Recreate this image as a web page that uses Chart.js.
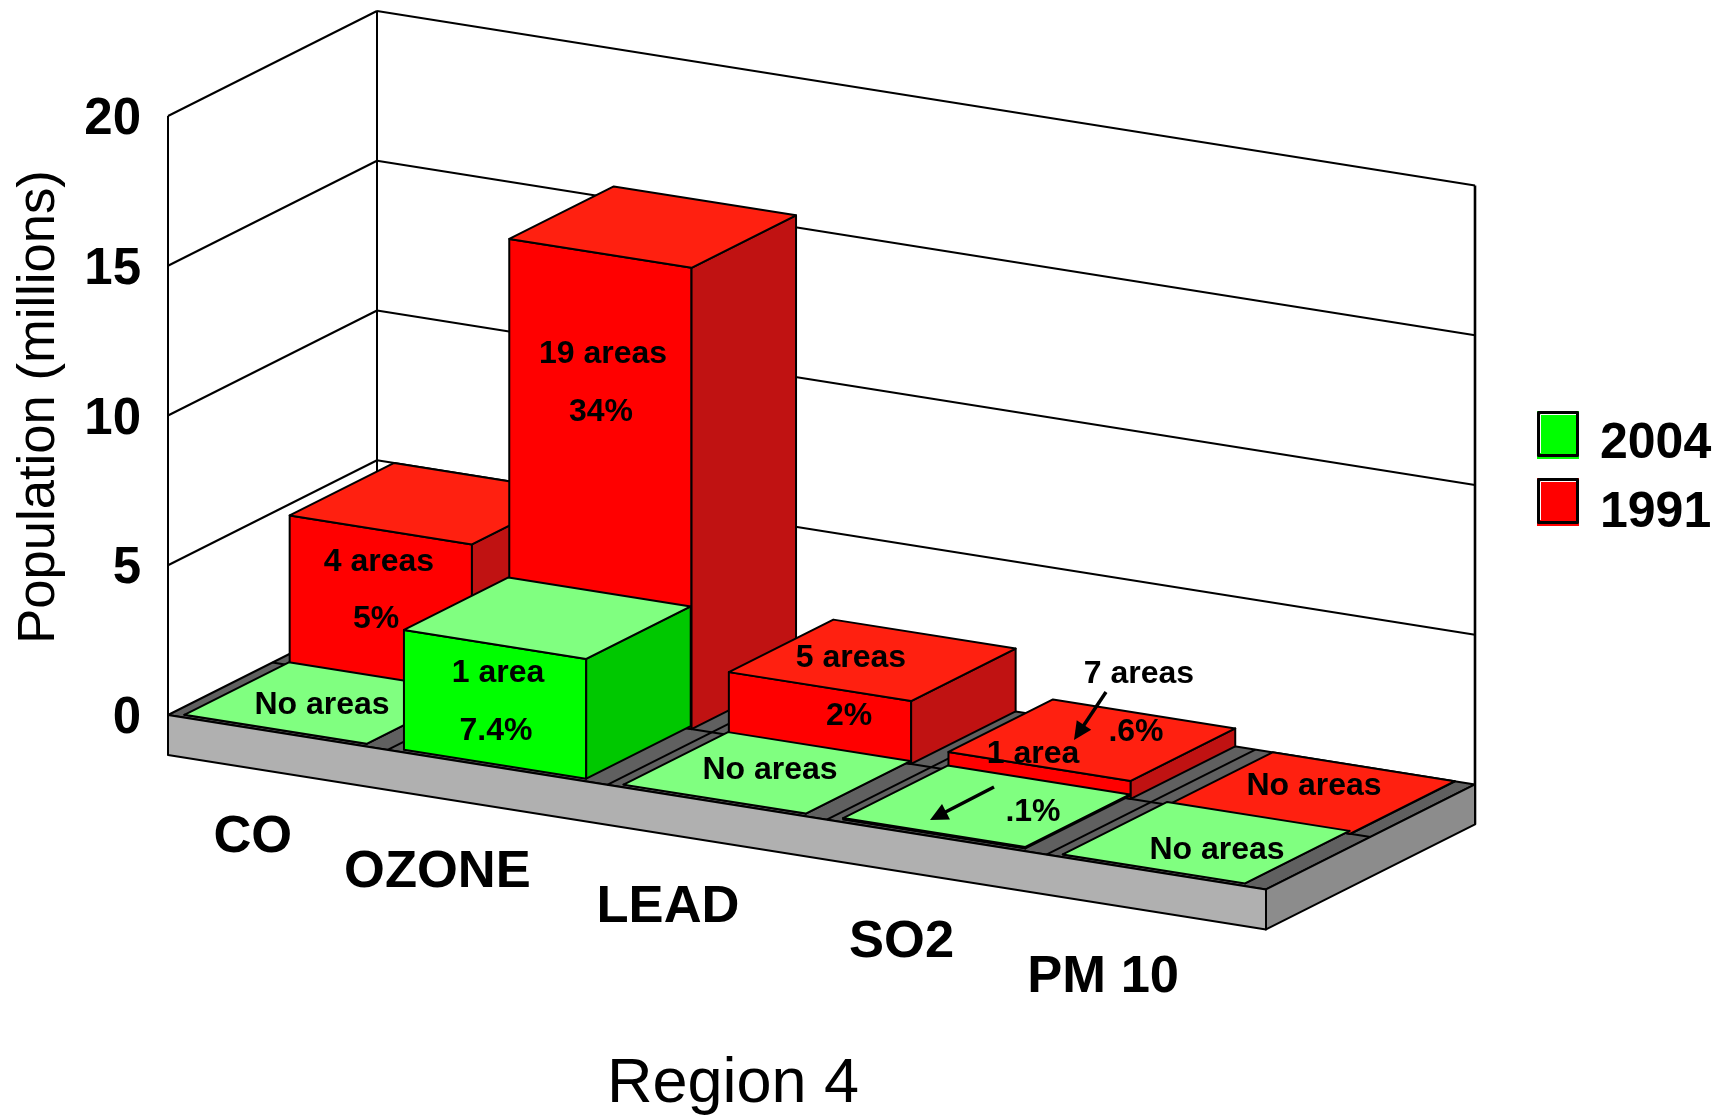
<!DOCTYPE html>
<html>
<head>
<meta charset="utf-8">
<title>Region 4</title>
<script src="https://cdn.jsdelivr.net/npm/chart.js@4/dist/chart.umd.min.js"></script>
<style>
    html, body { margin: 0; padding: 0; background: #fff; }
    canvas { display: block; }
</style>
</head>
<body>
<canvas id="regionChart" width="1725" height="1117"></canvas>
<script>
//chart data
const categories = ['CO', 'OZONE', 'LEAD', 'SO2', 'PM 10'];
const years = ['2004', '1991'];
const values2004 = [0, 4.0, 0, 0.05, 0];
const values1991 = [5.0, 15.4, 2.1, 0.6, 0];
const yTicks = [0, 5, 10, 15, 20];
const areas2004 = ['No areas', '1 area', 'No areas', '1 area', 'No areas'];
const percent2004 = ['', '7.4%', '', '.1%', ''];
const areas1991 = ['4 areas', '19 areas', '5 areas', '7 areas', 'No areas'];
const percent1991 = ['5%', '34%', '2%', '.6%', ''];

//3d look
const slope = 0.1589;
const depthX = 209;
const depthY = 105;
const plinth = 40;
const green = {front: '#00ff00', top: '#80ff80', side: '#00c800'};
const red = {front: '#ff0000', top: '#ff2010', side: '#c01212'};
const font = 'Liberation Sans, Arial, sans-serif';

//where the texts sit on the canvas, same order as the arrays above
const areas2004Spots = [[322, 705], [498, 673], [770, 770], [1033, 754], [1217, 850]];
const percent2004Spots = [null, [496, 731], null, [1033, 812], null];
const areas1991Spots = [[379, 562], [603, 354], [851, 658], [1139, 674], [1314, 786]];
const percent1991Spots = [[376, 619], [601, 412], [849, 716], [1136, 732], null];
const categoryNudge = [-25, -60, -49, -35, -53];

function line(ctx, a, b, width) {
    ctx.lineWidth = width || 2;
    ctx.beginPath();
    ctx.moveTo(a.x, a.y);
    ctx.lineTo(b.x, b.y);
    ctx.stroke();
}

function face(ctx, points, color) {
    ctx.beginPath();
    points.forEach((p, i) => i ? ctx.lineTo(p.x, p.y) : ctx.moveTo(p.x, p.y));
    ctx.closePath();
    ctx.fillStyle = color;
    ctx.fill();
    ctx.lineWidth = 2;
    ctx.stroke();
}

function arrow(ctx, a, b) {
    const angle = Math.atan2(b.y - a.y, b.x - a.x);
    ctx.lineWidth = 3.5;
    ctx.beginPath();
    ctx.moveTo(a.x, a.y);
    ctx.lineTo(b.x - 12 * Math.cos(angle), b.y - 12 * Math.sin(angle));
    ctx.stroke();
    ctx.fillStyle = '#000';
    ctx.beginPath();
    ctx.moveTo(b.x, b.y);
    ctx.lineTo(b.x - 20 * Math.cos(angle - 0.45), b.y - 20 * Math.sin(angle - 0.45));
    ctx.lineTo(b.x - 20 * Math.cos(angle + 0.45), b.y - 20 * Math.sin(angle + 0.45));
    ctx.closePath();
    ctx.fill();
}

//box3d replaces the flat bars: every corner comes from the bar elements and the scales
const box3d = {
    id: 'box3d',
    beforeDatasetsDraw(chart) {
        const ctx = chart.ctx;
        const area = chart.chartArea;
        const xScale = chart.scales.x;
        const yScale = chart.scales.y;
        const project = (px, py, d) => ({
            x: px + d * depthX,
            y: py + (px - area.left) * slope - d * depthY
        });
        const down = (p) => ({x: p.x, y: p.y + plinth});

        ctx.save();
        ctx.strokeStyle = '#000';
        ctx.lineJoin = 'round';

        //walls and grid lines
        yScale.ticks.forEach(tick => {
            const py = yScale.getPixelForValue(tick.value);
            if (tick.value > 0) {
                line(ctx, project(area.left, py, 0), project(area.left, py, 1));
                line(ctx, project(area.left, py, 1), project(area.right, py, 1));
            }
        });
        const top = yScale.getPixelForValue(yTicks[yTicks.length - 1]);
        const zero = yScale.getPixelForValue(0);
        line(ctx, project(area.left, top, 0), down(project(area.left, zero, 0)));
        line(ctx, project(area.left, top, 1), project(area.left, zero, 1));
        line(ctx, project(area.right, top, 1), down(project(area.right, zero, 1)), 2.6);

        //floor and plinth
        const fl = project(area.left, zero, 0);
        const fr = project(area.right, zero, 0);
        const br = project(area.right, zero, 1);
        const bl = project(area.left, zero, 1);
        face(ctx, [fl, fr, br, bl], '#606060');
        face(ctx, [fl, fr, down(fr), down(fl)], '#b0b0b0');
        face(ctx, [fr, br, down(br), down(fr)], '#8c8c8c');
        for (let i = 1; i < categories.length; i++) {
            const px = xScale.getPixelForValue(i - 0.5);
            line(ctx, project(px, zero, 0), project(px, zero, 1));
        }
        line(ctx, project(area.left, zero, 0.5), project(area.right, zero, 0.5));

        //back row first, then front row, left to right
        const rows = [
            {index: 1, near: 0.5, far: 1, shift: -1.5, colors: red},
            {index: 0, near: 0.02, far: 0.52, shift: -6.5, colors: green}
        ];
        rows.forEach(row => {
            chart.getDatasetMeta(row.index).data.forEach(bar => {
                const left = bar.x - bar.width / 2 + row.shift;
                const right = bar.x + bar.width / 2 + row.shift;
                const a = project(left, bar.y, row.near);
                const b = project(right, bar.y, row.near);
                const c = project(right, bar.y, row.far);
                const d = project(left, bar.y, row.far);
                const e = project(left, bar.base, row.near);
                const f = project(right, bar.base, row.near);
                const g = project(right, bar.base, row.far);
                face(ctx, [a, b, f, e], row.colors.front);
                face(ctx, [b, c, g, f], row.colors.side);
                face(ctx, [a, b, c, d], row.colors.top);
            });
        });

        //texts on the bars
        ctx.fillStyle = '#000';
        ctx.textAlign = 'center';
        ctx.textBaseline = 'middle';
        ctx.font = 'bold 32px ' + font;
        [[areas1991, areas1991Spots], [percent1991, percent1991Spots],
            [areas2004, areas2004Spots], [percent2004, percent2004Spots]].forEach(([texts, spots]) => {
            texts.forEach((text, i) => {
                if (text) ctx.fillText(text, spots[i][0], spots[i][1]);
            });
        });
        arrow(ctx, {x: 1106, y: 692}, {x: 1074, y: 740});
        arrow(ctx, {x: 994, y: 787}, {x: 930, y: 820});

        //category labels run along the plinth
        ctx.font = 'bold 52.5px ' + font;
        categories.forEach((name, i) => {
            const p = project(xScale.getPixelForValue(i), zero, 0);
            ctx.fillText(name, p.x + categoryNudge[i], p.y + 105);
        });

        //axis titles
        ctx.font = '63px ' + font;
        ctx.fillText('Region 4', 733, 1085);
        ctx.save();
        ctx.translate(39, 407);
        ctx.rotate(-Math.PI / 2);
        ctx.font = '52.6px ' + font;
        ctx.fillText('Population (millions)', 0, 0);
        ctx.restore();

        //legend
        years.forEach((year, i) => {
            const boxTop = 411 + i * 67;
            const colors = i ? red : green;
            ctx.fillStyle = colors.front;
            ctx.fillRect(1537, boxTop, 42, 48);
            ctx.lineWidth = 3;
            ctx.strokeStyle = '#000';
            ctx.strokeRect(1538.5, boxTop + 1.5, 39, 43);
            ctx.strokeStyle = '#fff';
            line(ctx, {x: 1540.5, y: boxTop + 3.5}, {x: 1576, y: boxTop + 3.5}, 1);
            line(ctx, {x: 1540.5, y: boxTop + 3.5}, {x: 1540.5, y: boxTop + 42}, 1);
            ctx.fillStyle = '#000';
            ctx.textAlign = 'left';
            ctx.font = 'bold 50px ' + font;
            ctx.fillText(year, 1600, 444.5 + i * 69);
        });
        ctx.restore();

        //the flat bars are not drawn
        return false;
    }
};

const ctx = document.getElementById('regionChart').getContext('2d');
const regionChart = new Chart(ctx, {
    type: 'bar',
    data: {
        labels: categories,
        datasets: [
            {label: years[0], data: values2004, backgroundColor: green.front, grouped: false, categoryPercentage: 0.83, barPercentage: 1},
            {label: years[1], data: values1991, backgroundColor: red.front, grouped: false, categoryPercentage: 0.83, barPercentage: 1}
        ]
    },
    options: {
        responsive: false,
        animation: false,
        layout: {padding: {left: 0, top: 116, right: 459, bottom: 402}},
        plugins: {legend: {display: false}, title: {display: false}, tooltip: {enabled: false}},
        scales: {
            x: {display: false},
            y: {
                min: 0,
                max: 20,
                afterBuildTicks: scale => {
                    scale.ticks = yTicks.map(value => ({value}));
                },
                afterFit: scale => {
                    scale.width = 168;
                },
                grid: {display: false, drawTicks: false},
                border: {display: false},
                ticks: {
                    color: '#000',
                    padding: 27,
                    labelOffset: 4,
                    font: {family: font, size: 51, weight: 'bold'}
                }
            }
        }
    },
    plugins: [box3d]
});
</script>
</body>
</html>
